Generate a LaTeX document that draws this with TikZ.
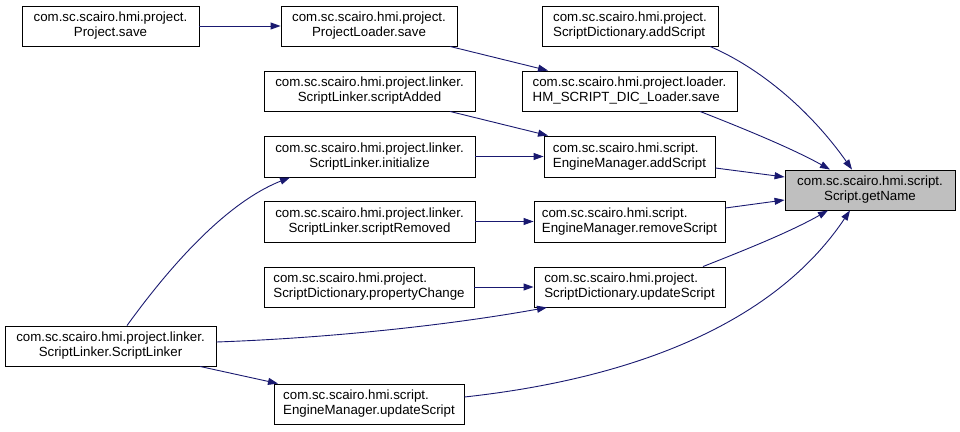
\documentclass[tikz,border=0pt]{standalone}
\usepackage{fontspec}
\setmainfont{Liberation Sans}
\usetikzlibrary{arrows.meta}
\begin{document}
\begin{tikzpicture}[x=1pt,y=-1pt,
  fn/.style={draw=black,line width=0.9pt,fill=white,inner sep=0pt,minimum height=40pt,
    font=\fontsize{13.3}{15}\selectfont,align=center},
  fnl/.style={fn,align=left},
  root/.style={fill={rgb,255:red,191;green,191;blue,191}},
  call/.style={draw={rgb,255:red,25;green,25;blue,112},line width=0.9pt,
    -{Triangle[length=10pt,width=7pt]}}]
\useasboundingbox (0,0) rectangle (960,431);
\node[fn,minimum width=177pt] (ps) at (110.5,26) {com.sc.scairo.hmi.project.\\Project.save};
\node[fn,minimum width=176pt] (pls) at (369,26) {com.sc.scairo.hmi.project.\\ProjectLoader.save};
\node[fnl,minimum width=176pt] (sda) at (630,26) {com.sc.scairo.hmi.project.\\ScriptDictionary.addScript};
\node[fnl,minimum width=215pt] (hm) at (629.5,91) {com.sc.scairo.hmi.project.loader.\\HM\_SCRIPT\_DIC\_Loader.save};
\node[fn,minimum width=211pt] (sa) at (369.5,91) {com.sc.scairo.hmi.project.linker.\\ScriptLinker.scriptAdded};
\node[fn,minimum width=211pt,minimum height=41pt] (ini) at (369.5,156.5) {com.sc.scairo.hmi.project.linker.\\ScriptLinker.initialize};
\node[fnl,minimum width=171pt,minimum height=41pt] (ema) at (629.5,156.5) {com.sc.scairo.hmi.script.\\EngineManager.addScript};
\node[fn,root,minimum width=170pt] (gn) at (870,190) {com.sc.scairo.hmi.script.\\Script.getName};
\node[fn,minimum width=211pt,minimum height=41pt] (srm) at (369.5,221.5) {com.sc.scairo.hmi.project.linker.\\ScriptLinker.scriptRemoved};
\node[fnl,minimum width=191pt,minimum height=41pt] (emr) at (629.5,221.5) {com.sc.scairo.hmi.script.\\EngineManager.removeScript};
\node[fnl,minimum width=210pt] (pc) at (369,287) {com.sc.scairo.hmi.project.\\ScriptDictionary.propertyChange};
\node[fnl,minimum width=191pt] (sdu) at (629.5,287) {com.sc.scairo.hmi.project.\\ScriptDictionary.updateScript};
\node[fn,minimum width=211pt] (sl) at (110.5,346) {com.sc.scairo.hmi.project.linker.\\ScriptLinker.ScriptLinker};
\node[fnl,minimum width=190pt] (emu) at (369,404) {com.sc.scairo.hmi.script.\\EngineManager.updateScript};
% edges
\draw[call] (ps.east) -- (pls.west);
\draw[call] ([xshift=81pt]pls.south) -- ([xshift=-81.5pt]hm.north);
\draw[call] ([xshift=80pt]sda.south) .. controls (760,68) and (810,110) .. ([xshift=-18pt]gn.north);
\draw[call] ([xshift=70.5pt]hm.south) .. controls (750,131) and (795,150) .. ([xshift=-40pt]gn.north);
\draw[call] ([xshift=80.5pt]sa.south) -- ([xshift=-81.5pt]ema.north);
\draw[call] (ini.east) -- (ema.west);
\draw[call] ([yshift=-11.5pt]ema.east) -- ([yshift=13pt]gn.west);
\draw[call] (srm.east) -- (emr.west);
\draw[call] ([yshift=13.5pt]emr.east) -- ([yshift=-10pt]gn.west);
\draw[call] ([xshift=73.5pt]sdu.north) .. controls (745,250) and (790,232) .. ([xshift=-42pt]gn.south);
\draw[call] (pc.east) -- (sdu.west);
\draw[call] ([xshift=16.5pt]sl.north) .. controls (160,280) and (220,205) .. ([xshift=-79.5pt]ini.south);
\draw[call] ([yshift=4pt]sl.east) .. controls (330,338) and (450,325) .. ([xshift=-82.5pt]sdu.south);
\draw[call] ([xshift=89.5pt]sl.south) -- ([xshift=-91pt]emu.north);
\draw[call] ([yshift=7pt]emu.east) .. controls (620,380) and (770,330) .. ([xshift=-20pt]gn.south);
\end{tikzpicture}
\end{document}
